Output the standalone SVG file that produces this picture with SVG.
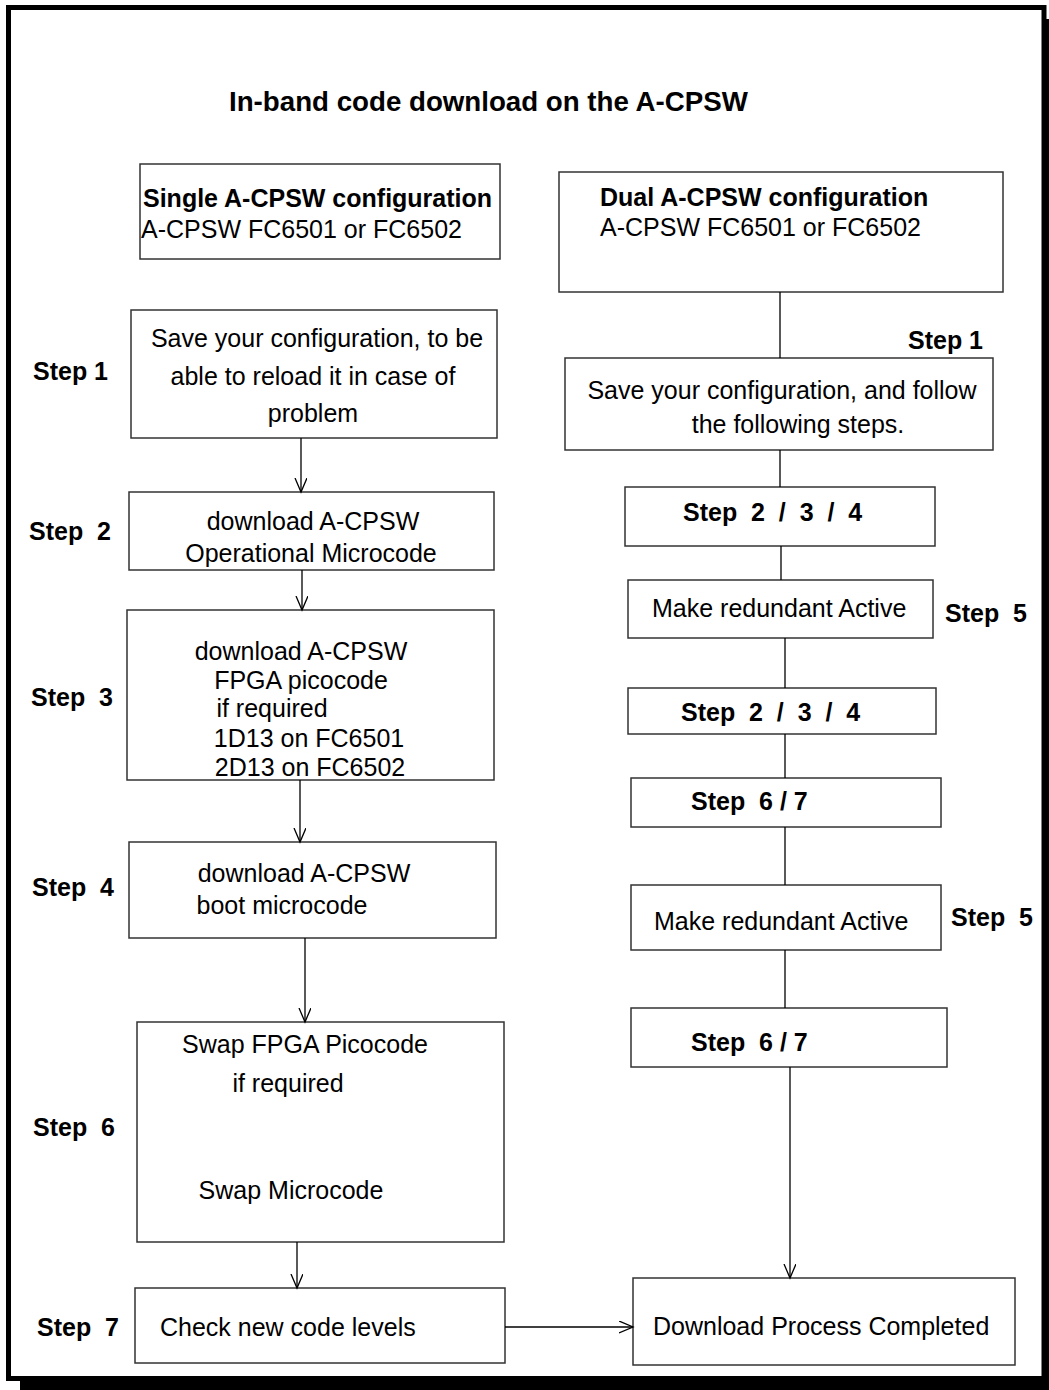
<svg xmlns="http://www.w3.org/2000/svg" width="1049" height="1390" viewBox="0 0 1049 1390">
<defs>
<marker id="arr" markerUnits="userSpaceOnUse" markerWidth="16" markerHeight="14" refX="14" refY="6" orient="auto">
<path d="M0,0 L14,6 L0,12" fill="none" stroke="#000" stroke-width="1.3"/>
</marker>
</defs>
<style>
.box{fill:#fff;stroke:#333;stroke-width:1.5}
.t{font-family:"Liberation Sans",Arial,sans-serif;font-size:25px;fill:#000}
.b{font-family:"Liberation Sans",Arial,sans-serif;font-size:25px;font-weight:bold;fill:#000}
.c{text-anchor:middle}
.ln{stroke:#000;stroke-width:1.3;fill:none}
</style>
<rect width="1049" height="1390" fill="#fff"/>
<rect x="20" y="19" width="1045" height="1380" fill="#000"/>
<rect x="8.5" y="7.5" width="1035.5" height="1371" fill="#fff" stroke="#000" stroke-width="5"/>
<text class="b" x="229" y="111" style="font-size:27.7px">In-band code download on the A-CPSW</text>

<g id="single">
<rect class="box" x="140" y="164" width="360" height="95"/>
<text class="b" x="143" y="207">Single A-CPSW configuration</text>
<text class="t" x="141" y="238">A-CPSW FC6501 or FC6502</text>
</g>
<g id="s1">
<rect class="box" x="131" y="310" width="366" height="128"/>
<text class="t c" x="317" y="347">Save your configuration, to be</text>
<text class="t c" x="313" y="385">able to reload it in case of</text>
<text class="t c" x="313" y="422">problem</text>
</g>
<g id="s2">
<rect class="box" x="129" y="492" width="365" height="78"/>
<text class="t c" x="313" y="530">download A-CPSW</text>
<text class="t c" x="311" y="562">Operational Microcode</text>
</g>
<g id="s3">
<rect class="box" x="127" y="610" width="367" height="170"/>
<text class="t c" x="301" y="660">download A-CPSW</text>
<text class="t c" x="301" y="689">FPGA picocode</text>
<text class="t c" x="272" y="717">if required</text>
<text class="t c" x="309" y="747">1D13 on FC6501</text>
<text class="t c" x="310" y="776">2D13 on FC6502</text>
</g>
<g id="s4">
<rect class="box" x="129" y="842" width="367" height="96"/>
<text class="t c" x="304" y="882">download A-CPSW</text>
<text class="t c" x="282" y="914">boot microcode</text>
</g>
<g id="s6">
<rect class="box" x="137" y="1022" width="367" height="220"/>
<text class="t c" x="305" y="1053">Swap FPGA Picocode</text>
<text class="t c" x="288" y="1092">if required</text>
<text class="t c" x="291" y="1199">Swap Microcode</text>
</g>
<g id="s7">
<rect class="box" x="135" y="1288" width="370" height="75"/>
<text class="t" x="160" y="1336">Check new code levels</text>
</g>
<g id="done">
<rect class="box" x="633" y="1278" width="382" height="87"/>
<text class="t" x="653" y="1335">Download Process Completed</text>
</g>

<g id="dual">
<rect class="box" x="559" y="172" width="444" height="120"/>
<text class="b" x="600" y="206">Dual A-CPSW configuration</text>
<text class="t" x="600" y="236">A-CPSW FC6501 or FC6502</text>
</g>
<g id="d1">
<rect class="box" x="565" y="358" width="428" height="92"/>
<text class="t c" x="782" y="399">Save your configuration, and follow</text>
<text class="t c" x="798" y="433">the following steps.</text>
</g>
<g id="d234a">
<rect class="box" x="625" y="487" width="310" height="59"/>
<text class="b" x="683" y="521" xml:space="preserve">Step  2  /  3  /  4</text>
</g>
<g id="d5a">
<rect class="box" x="628" y="580" width="305" height="58"/>
<text class="t" x="652" y="617">Make redundant Active</text>
</g>
<g id="d234b">
<rect class="box" x="628" y="688" width="308" height="46"/>
<text class="b" x="681" y="721" xml:space="preserve">Step  2  /  3  /  4</text>
</g>
<g id="d67a">
<rect class="box" x="631" y="778" width="310" height="49"/>
<text class="b" x="691" y="810" xml:space="preserve">Step  6 / 7</text>
</g>
<g id="d5b">
<rect class="box" x="631" y="885" width="310" height="65"/>
<text class="t" x="654" y="930">Make redundant Active</text>
</g>
<g id="d67b">
<rect class="box" x="631" y="1008" width="316" height="59"/>
<text class="b" x="691" y="1051" xml:space="preserve">Step  6 / 7</text>
</g>

<g id="labels">
<text class="b" x="33" y="380" xml:space="preserve">Step 1</text>
<text class="b" x="29" y="540" xml:space="preserve">Step  2</text>
<text class="b" x="31" y="706" xml:space="preserve">Step  3</text>
<text class="b" x="32" y="896" xml:space="preserve">Step  4</text>
<text class="b" x="33" y="1136" xml:space="preserve">Step  6</text>
<text class="b" x="37" y="1336" xml:space="preserve">Step  7</text>
<text class="b" x="908" y="349" xml:space="preserve">Step 1</text>
<text class="b" x="945" y="622" xml:space="preserve">Step  5</text>
<text class="b" x="951" y="926" xml:space="preserve">Step  5</text>
</g>

<g id="connectors">
<line class="ln" x1="301" y1="438" x2="301" y2="492" marker-end="url(#arr)"/>
<line class="ln" x1="302" y1="570" x2="302" y2="610" marker-end="url(#arr)"/>
<line class="ln" x1="300" y1="780" x2="300" y2="842" marker-end="url(#arr)"/>
<line class="ln" x1="305" y1="938" x2="305" y2="1022" marker-end="url(#arr)"/>
<line class="ln" x1="297" y1="1242" x2="297" y2="1288" marker-end="url(#arr)"/>
<line class="ln" x1="505" y1="1327" x2="633" y2="1327" marker-end="url(#arr)"/>
<line class="ln" x1="780" y1="292" x2="780" y2="358"/>
<line class="ln" x1="780" y1="450" x2="780" y2="487"/>
<line class="ln" x1="781" y1="546" x2="781" y2="580"/>
<line class="ln" x1="785" y1="638" x2="785" y2="688"/>
<line class="ln" x1="785" y1="734" x2="785" y2="778"/>
<line class="ln" x1="785" y1="827" x2="785" y2="885"/>
<line class="ln" x1="785" y1="950" x2="785" y2="1008"/>
<line class="ln" x1="790" y1="1067" x2="790" y2="1278" marker-end="url(#arr)"/>
</g>
</svg>
